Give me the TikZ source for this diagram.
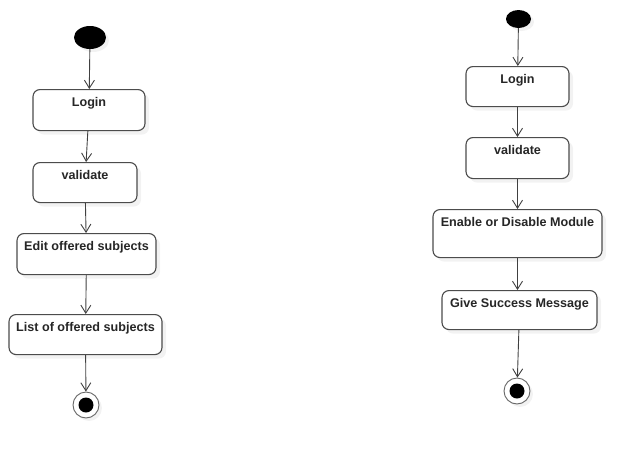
\documentclass[tikz,border=0pt]{standalone}
\usepackage{fontspec}
\setmainfont{Liberation Sans}
\usetikzlibrary{arrows.meta,shapes.geometric,shadows}

\begin{document}
\begin{tikzpicture}
        [x=1pt, y=-1pt,
        astyle/.style={rectangle, rounded corners=7pt, draw=black!70, line width=1.1pt, fill=white, anchor=north,
                inner sep=0pt, text height=17pt, text depth=24pt, text=black!85,
                font=\bfseries\fontsize{12.6}{15}\selectfont,
                drop shadow={shadow xshift=4pt, shadow yshift=-4pt, opacity=0.1}},
        sstyle/.style={ellipse, fill=black, inner sep=0pt,
                drop shadow={shadow xshift=3pt, shadow yshift=-3pt, opacity=0.1}},
        estyle/.style={circle, draw=black!60, line width=0.9pt, fill=white, inner sep=0pt, minimum size=26pt,
                path picture={\fill[black] (path picture bounding box.center) circle (7.5pt);},
                drop shadow={shadow xshift=3pt, shadow yshift=-3pt, opacity=0.1}},
        dstyle/.style={-{Straight Barb[length=8pt, width=10pt]}, draw=black!75, line width=0.9pt}]

        \useasboundingbox (0,0) rectangle (641,459);

        % left flow
        \node[sstyle, minimum width=32pt, minimum height=23pt] (start1) at (90,37.5) {};
        \node[astyle, minimum width=112pt] (login1) at (89,89) {Login};
        \node[astyle, minimum width=104pt, text depth=23pt] (validate1) at (85,162) {validate};
        \node[astyle, minimum width=139pt] (edit) at (86.5,233) {Edit offered subjects};
        \node[astyle, minimum width=153pt, text depth=23pt] (list) at (85.5,314) {List of offered subjects};
        \node[estyle] (end1) at (86,405) {};

        \draw[dstyle] (start1) -- (login1);
        \draw[dstyle] (login1) -- (validate1);
        \draw[dstyle] (validate1) -- (edit);
        \draw[dstyle] (edit) -- (list);
        \draw[dstyle] (list) -- (end1);

        % right flow
        \node[sstyle, minimum width=25pt, minimum height=18pt] (start2) at (518.5,19) {};
        \node[astyle, minimum width=103pt, text depth=23pt] (login2) at (517.5,66) {Login};
        \node[astyle, minimum width=103pt] (validate2) at (517.5,137) {validate};
        \node[astyle, minimum width=169pt, text depth=31pt] (enable) at (517.5,209) {Enable or Disable Module};
        \node[astyle, minimum width=155pt, text depth=22pt] (message) at (519.5,290) {Give Success Message};
        \node[estyle] (end2) at (517,391) {};

        \draw[dstyle] (start2) -- (login2);
        \draw[dstyle] (login2) -- (validate2);
        \draw[dstyle] (validate2) -- (enable);
        \draw[dstyle] (enable) -- (enable |- message.north);
        \draw[dstyle] (message) -- (end2);
\end{tikzpicture}
\end{document}
